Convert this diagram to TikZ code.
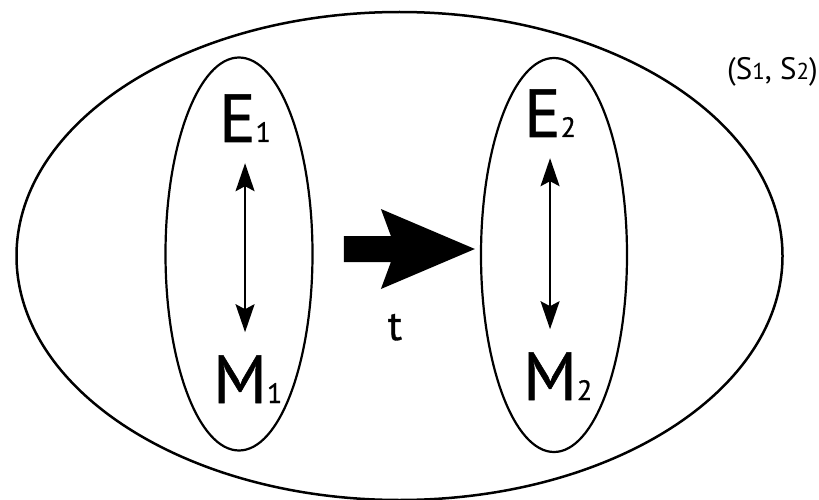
\documentclass[tikz,border=0pt]{standalone}
\usepackage{fontspec}
\setmainfont{PT Sans}
\newfontfamily\heavysans[FakeBold=0.8]{PT Sans}
\usetikzlibrary{arrows.meta, shapes.geometric, calc}
\newcommand{\bigsym}[2]{{\fontsize{68}{68}\selectfont #1}{\fontsize{28}{28}\selectfont #2}}
\tikzset{
  ring/.style={draw, ellipse, line width=2.2pt, inner sep=0pt},
  sym/.style={inner sep=0pt, anchor=base west, font=\heavysans},
  dblarrow/.style={line width=2pt, {Stealth[length=28pt,width=19pt,inset=5pt]}-{Stealth[length=28pt,width=19pt,inset=5pt]}}
}
\begin{document}
\begin{tikzpicture}[x=1pt, y=-1pt]
\useasboundingbox (0,0) rectangle (819,500);
% outer and inner ellipses
\node[ring, line width=2.5pt, minimum width=766pt, minimum height=488pt] (world) at (399.5,256) {};
\node[ring, minimum width=147pt, minimum height=393pt] (left) at (239,254) {};
\node[ring, minimum width=146pt, minimum height=394pt] (right) at (554,255) {};
% symbols
\node[sym] (E1) at (219,142) {\bigsym{E}{1}};
\node[sym] (M1) at (213,403) {\bigsym{M}{1}};
\node[sym] (E2) at (524,137) {\bigsym{E}{2}};
\node[sym] (M2) at (523,400) {\bigsym{M}{2}};
\node[sym, anchor=base] (t) at (395,340) {\fontsize{42}{42}\selectfont t};
\node[sym, font=\rmfamily] (S) at (727,80) {{\fontsize{31}{31}\selectfont (S}{\fontsize{23}{23}\selectfont 1}{\fontsize{31}{31}\selectfont , S}{\fontsize{23}{23}\selectfont 2}{\fontsize{31}{31}\selectfont )}};
% two-way arrows
\draw[dblarrow, shorten <=21pt, shorten >=23pt] (E1.south) -- (E1.south |- M1.north);
\draw[dblarrow, shorten <=21pt, shorten >=23pt] (E2.south) -- (E2.south |- M2.north);
% fat transition arrow
\coordinate (tip) at ($(right.west)+(-5,-6)$);
\fill (tip) -- ++(-94,-40) -- ++(10,27) -- ++(-47,0) -- ++(0,26) -- ++(47,0) -- ++(-10,27) -- cycle;
\end{tikzpicture}
\end{document}
